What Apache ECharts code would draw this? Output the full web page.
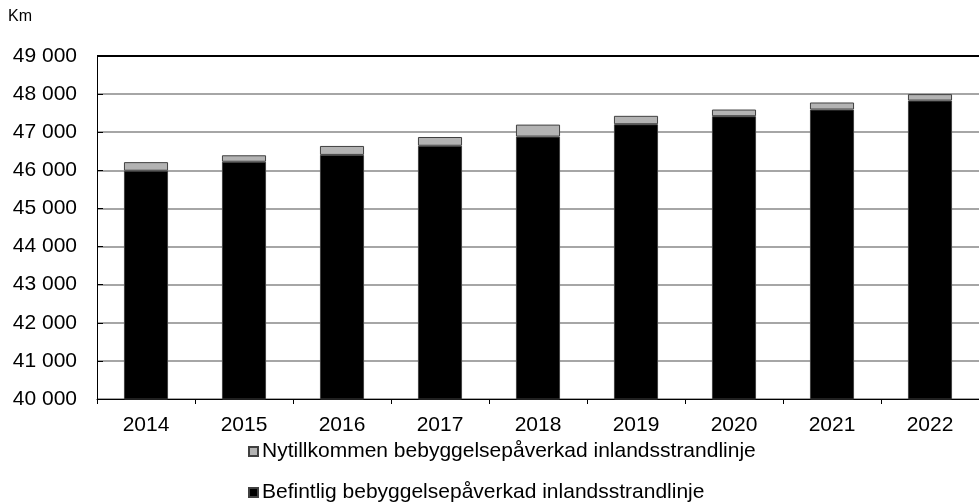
<!DOCTYPE html>
<html>
<head>
<meta charset="utf-8">
<script src="https://cdn.jsdelivr.net/npm/echarts@6/dist/echarts.min.js"></script>
<style>
  html, body { margin: 0; padding: 0; background: #fff; }
  #chart { width: 979px; height: 504px; }
</style>
</head>
<body>
<div id="chart"></div>
<script>
// Chart data
var years = ['2014', '2015', '2016', '2017', '2018', '2019', '2020', '2021', '2022'];
var befintlig = [45990, 46225, 46405, 46645, 46885, 47210, 47420, 47595, 47830];
var nytillkommen = [225, 170, 235, 230, 315, 220, 175, 185, 170];
var yTicks = ['40 000', '41 000', '42 000', '43 000', '44 000', '45 000', '46 000', '47 000', '48 000', '49 000'];

var nameNy = 'Nytillkommen bebyggelsepåverkad inlandsstrandlinje';
var nameBef = 'Befintlig bebyggelsepåverkad inlandsstrandlinje';

var myChart = echarts.init(document.getElementById('chart'));

// Grid lines: gray, top one black
var splitColors = [];
for (var i = 0; i < yTicks.length - 1; i++) splitColors.push('#a6a6a6');
splitColors.push('#000');

var font = 'Liberation Sans, Arial, sans-serif';

// One legend per row, stacked
function legendRow(name, top) {
  return {
    orient: 'horizontal',
    left: 243,
    top: top,
    itemWidth: 9,
    itemHeight: 9,
    itemGap: 0,
    icon: 'rect',
    textStyle: { fontSize: 21, color: '#000', fontFamily: font, padding: [0, 0, 0, -1] },
    data: [name]
  };
}

var chartOptions = {
  animation: false,
  textStyle: { fontFamily: font, color: '#000' },
  graphic: [{
    type: 'text',
    left: 8,
    top: 9,
    style: { text: 'Km', fontSize: 16, fill: '#000', fontFamily: font }
  }],
  legend: [legendRow(nameNy, 436), legendRow(nameBef, 477)],
  grid: { left: 97, right: 0, top: 56, bottom: 105, containLabel: false },
  xAxis: {
    type: 'category',
    data: years,
    axisLine: { lineStyle: { color: '#000', width: 1 } },
    axisTick: { show: true, length: 5, alignWithLabel: false, lineStyle: { color: '#000' } },
    axisLabel: { fontSize: 21, color: '#000', margin: 16 }
  },
  yAxis: {
    type: 'value',
    min: 40000,
    max: 49000,
    interval: 1000,
    axisLine: { show: true, lineStyle: { color: '#000', width: 1 } },
    axisTick: { show: true, inside: true, length: 6, lineStyle: { color: '#000' } },
    axisLabel: {
      fontSize: 21,
      color: '#000',
      margin: 20,
      formatter: function (v) { return yTicks[Math.round((v - 40000) / 1000)]; }
    },
    splitLine: { show: true, lineStyle: { color: splitColors, width: 2 } }
  },
  series: [{
    name: nameBef,
    type: 'bar',
    stack: 'km',
    barWidth: '45%',
    data: befintlig,
    itemStyle: { color: '#000', borderColor: '#404040', borderWidth: 1 }
  }, {
    name: nameNy,
    type: 'bar',
    stack: 'km',
    barWidth: '45%',
    data: nytillkommen,
    itemStyle: { color: '#b3b3b3', borderColor: '#404040', borderWidth: 1 }
  }]
};

myChart.setOption(chartOptions);
</script>
</body>
</html>
